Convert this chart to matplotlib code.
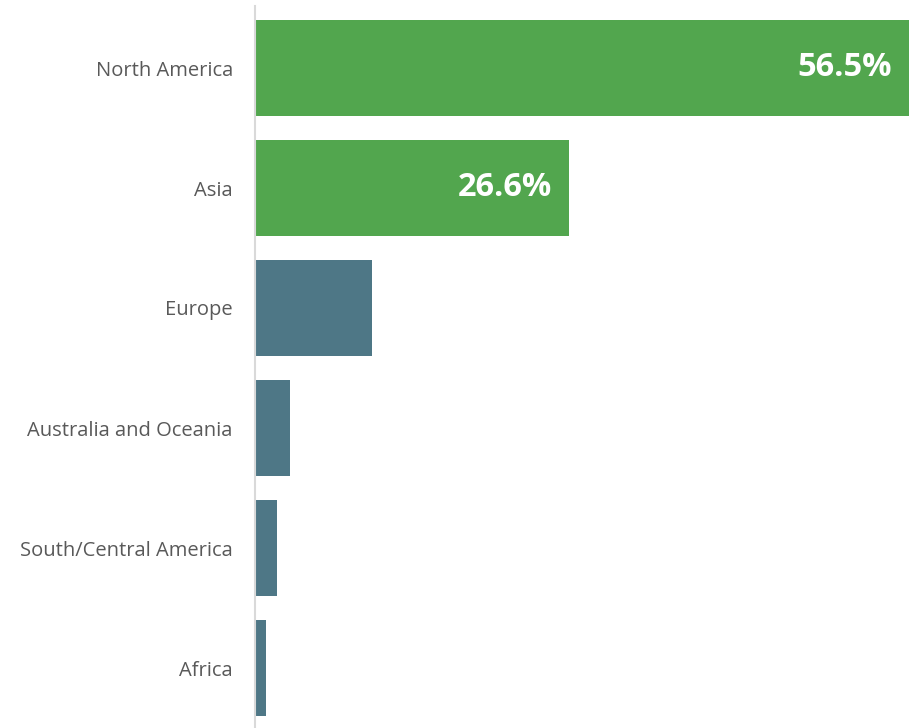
import matplotlib
matplotlib.use("Agg")
import matplotlib.pyplot as plt

categories = ["North America", "Asia", "Europe", "Australia and Oceania",
              "South/Central America", "Africa"]
values = [56.5, 26.6, 9.9, 3.0, 1.9, 0.9]
highlight = [True, True, False, False, False, False]
value_labels = ["56.5%", "26.6%", "", "", "", ""]

GREEN = "#52A64E"
BLUE = "#4E7786"

plt.rcParams['font.family'] = ['Open Sans', 'DejaVu Sans']

W, H = 909, 728
fig = plt.figure(figsize=(W / 100, H / 100), dpi=100)
ax = fig.add_axes([255 / W, 0, 1 - 255 / W, (H - 6) / H])

y = list(range(len(categories)))
colors = [GREEN if h else BLUE for h in highlight]
ax.barh(y, values, height=0.8, color=colors, edgecolor="none")

xmax = 654 / 11.8
ax.set_xlim(0, xmax)
ax.set_ylim(5.5, -62 / 120)

ax.set_yticks(y)
ax.set_yticklabels(categories, fontsize=14.5, color="#595959")
ax.tick_params(axis="y", length=0, pad=16)
ax.set_xticks([])

for s in ["top", "right", "bottom"]:
    ax.spines[s].set_visible(False)
ax.spines["left"].set_color("#d9d9d9")
ax.spines["left"].set_linewidth(1.5)

for yi, v, lab in zip(y, values, value_labels):
    if lab:
        ax.annotate(lab, xy=(min(v, xmax), yi), xytext=(-12, 0),
                    textcoords="offset points", ha="right", va="center",
                    color="white", fontsize=23.5, fontweight="bold")

fig.savefig("out.png", dpi=100)
